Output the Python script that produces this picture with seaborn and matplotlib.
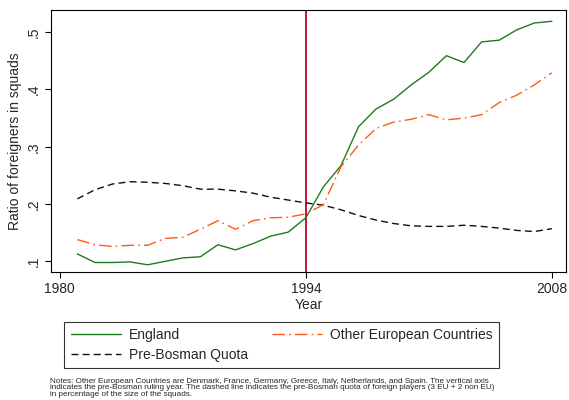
import pandas as pd
import matplotlib
matplotlib.use("Agg")
import matplotlib.pyplot as plt
import seaborn as sns

# Data
years = list(range(1981, 2009))
england = [0.113, 0.098, 0.098, 0.099, 0.094, 0.100, 0.106, 0.108, 0.129, 0.120,
           0.131, 0.144, 0.151, 0.176, 0.230, 0.267, 0.335, 0.366, 0.383, 0.408,
           0.430, 0.459, 0.447, 0.483, 0.486, 0.504, 0.516, 0.519]
other_europe = [0.138, 0.129, 0.126, 0.128, 0.128, 0.140, 0.142, 0.156, 0.171, 0.156,
                0.171, 0.176, 0.177, 0.183, 0.199, 0.265, 0.303, 0.332, 0.343, 0.348,
                0.356, 0.347, 0.350, 0.356, 0.377, 0.390, 0.408, 0.429]
quota = [0.209, 0.225, 0.235, 0.239, 0.238, 0.236, 0.232, 0.226, 0.226, 0.223,
         0.219, 0.212, 0.207, 0.202, 0.198, 0.190, 0.180, 0.172, 0.166, 0.162,
         0.161, 0.161, 0.163, 0.161, 0.158, 0.154, 0.152, 0.157]
bosman_year = 1994
x_ticks = [1980, 1994, 2008]
y_ticks = [0.1, 0.2, 0.3, 0.4, 0.5]
y_tick_labels = [".1", ".2", ".3", ".4", ".5"]

df = pd.DataFrame({
    "Year": years * 3,
    "value": england + quota + other_europe,
    "series": (["England"] * len(years) + ["Pre-Bosman Quota"] * len(years)
               + ["Other European Countries"] * len(years)),
})

sns.set_style("white")
plt.rcParams["font.family"] = ["Liberation Sans", "DejaVu Sans"]

fig = plt.figure(figsize=(5.69, 4.0), dpi=100)
ax = fig.add_axes([0.0896, 0.32, 0.905, 0.655])

palette = {"England": "#1f7a1f", "Pre-Bosman Quota": "#111111",
           "Other European Countries": "#ff5a1a"}
dashes = {"England": "", "Pre-Bosman Quota": (5, 3),
          "Other European Countries": (9, 3, 1.2, 3)}

sns.lineplot(data=df, x="Year", y="value", hue="series", style="series",
             palette=palette, dashes=dashes, linewidth=1.0, ax=ax,
             hue_order=["England", "Pre-Bosman Quota", "Other European Countries"])

ax.axvline(bosman_year, color="#c0143c", linewidth=1.4, zorder=0)

ax.set_xlim(1979.5, 2008.8)
ax.set_ylim(0.0814, 0.5387)
ax.set_xticks(x_ticks)
ax.set_yticks(y_ticks)
ax.set_yticklabels(y_tick_labels, rotation=90, va="center")
ax.tick_params(axis="both", direction="out", length=4, width=0.8,
               labelsize=10, left=True, bottom=True, color="black")
for s in ax.spines.values():
    s.set_color("black")
    s.set_linewidth(0.8)

ax.set_xlabel("Year", fontsize=10, labelpad=1)
ax.set_ylabel("Ratio of foreigners in squads", fontsize=10, labelpad=3)

ax.legend_.remove()
handles, labels = ax.get_legend_handles_labels()
leg = fig.legend(handles, labels, ncol=2, loc="center",
                 bbox_to_anchor=(0.495, 0.1375), fontsize=10,
                 frameon=True, fancybox=False, edgecolor="black",
                 handlelength=3.6, handletextpad=0.6, columnspacing=1.7,
                 borderpad=0.45, labelspacing=0.45)
leg.get_frame().set_linewidth(0.8)

notes = ("Notes: Other European Countries are Denmark, France, Germany, Greece, Italy, Netherlands, and Spain. The vertical axis\n"
         "indicates the pre-Bosman ruling year. The dashed line indicates the pre-Bosman quota of foreign players (3 EU + 2 non EU)\n"
         "in percentage of the size of the squads.")
fig.text(0.087, 0.056, notes, fontsize=5.85, va="top", ha="left", linespacing=0.9)

fig.savefig("out.png", dpi=100)
